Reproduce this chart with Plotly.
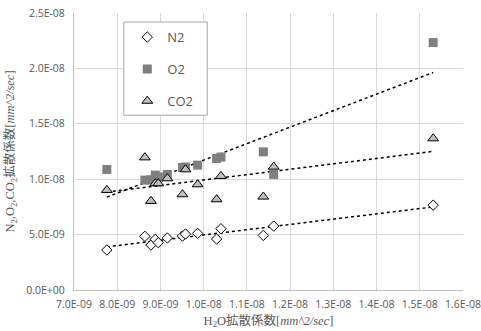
import numpy as np
import plotly.graph_objects as go

# H2O diffusion coefficient (x)
h2o = [7.76e-9, 8.64e-9, 8.78e-9, 8.88e-9, 8.95e-9, 9.16e-9, 9.51e-9, 9.58e-9,
       9.86e-9, 1.030e-8, 1.040e-8, 1.138e-8, 1.162e-8, 1.531e-8]
n2 = [3.61e-9, 4.84e-9, 4.06e-9, 4.57e-9, 4.27e-9, 4.69e-9, 4.87e-9, 5.05e-9,
      5.11e-9, 4.60e-9, 5.53e-9, 4.93e-9, 5.77e-9, 7.66e-9]
o2 = [10.88e-9, 9.92e-9, 9.95e-9, 10.37e-9, 10.20e-9, 10.43e-9, 11.06e-9, 11.10e-9,
      11.27e-9, 11.87e-9, 12.00e-9, 12.47e-9, 10.43e-9, 22.33e-9]
co2 = [9.02e-9, 11.96e-9, 8.03e-9, 9.62e-9, 9.62e-9, 10.07e-9, 8.63e-9, 10.88e-9,
       9.53e-9, 8.18e-9, 10.28e-9, 8.42e-9, 11.12e-9, 13.68e-9]

x_tickvals = [7e-9, 8e-9, 9e-9, 1.0e-8, 1.1e-8, 1.2e-8, 1.3e-8, 1.4e-8, 1.5e-8, 1.6e-8]
x_ticktext = ["7.0E-09", "8.0E-09", "9.0E-09", "1.0E-08", "1.1E-08", "1.2E-08",
              "1.3E-08", "1.4E-08", "1.5E-08", "1.6E-08"]
y_tickvals = [0, 5e-9, 1.0e-8, 1.5e-8, 2.0e-8, 2.5e-8]
y_ticktext = ["0.0E+00", "5.0E-09", "1.0E-08", "1.5E-08", "2.0E-08", "2.5E-08"]

fig = go.Figure()

series = [
    ("N2", n2, dict(symbol="diamond", size=8, color="white",
                    line=dict(color="black", width=1))),
    ("O2", o2, dict(symbol="square", size=9, color="#7f7f7f",
                    line=dict(color="#7f7f7f", width=0))),
    ("CO2", co2, dict(symbol="triangle-up", size=9.5, color="#bfbfbf",
                      line=dict(color="black", width=1))),
]

xa = np.array(h2o)
for name, ys, mk in series:
    k, b = np.polyfit(xa, np.array(ys), 1)
    xl = [xa.min(), xa.max()]
    fig.add_trace(go.Scatter(x=xl, y=[k * v + b for v in xl], mode="lines",
                             line=dict(color="black", width=1.5, dash="dot"),
                             showlegend=False, hoverinfo="skip"))

for name, ys, mk in series:
    fig.add_trace(go.Scatter(x=h2o, y=ys, mode="markers", name=name,
                             marker=mk, legendgroup=name))

axis_font = dict(family="Open Sans, Liberation Sans, sans-serif", size=10.5, color="#595959")
title_font = dict(family="Liberation Serif, Noto Sans CJK JP, serif", size=12.5, color="#595959")

# legend frame
fig.add_shape(type="rect", xref="paper", yref="paper",
              x0=0.128, x1=0.3424, y0=0.631, y1=0.9675,
              line=dict(color="#a6a6a6", width=1), fillcolor="white", layer="above")

fig.update_layout(
    width=481, height=331,
    margin=dict(l=74, r=18, t=13, b=41),
    plot_bgcolor="white", paper_bgcolor="white",
    showlegend=True,
    legend=dict(x=0.137, y=0.967, xanchor="left", yanchor="top",
                borderwidth=0, bgcolor="rgba(0,0,0,0)",
                font=dict(family="Open Sans, Liberation Sans, sans-serif", size=13, color="#595959"),
                tracegroupgap=12, itemwidth=30),
    xaxis=dict(range=[7e-9, 1.6e-8], tickvals=x_tickvals, ticktext=x_ticktext,
               showgrid=True, gridcolor="#d9d9d9", gridwidth=1,
               showline=True, linecolor="#bfbfbf", linewidth=1, zeroline=False,
               ticks="", tickfont=axis_font, ticklabelstandoff=4, automargin=False,
               ticklabeloverflow="allow",
               title=dict(text="H<sub>2</sub>O拡散係数[<i>mm^2/sec</i>]", font=title_font, standoff=6)),
    yaxis=dict(range=[0, 2.5e-8], tickvals=y_tickvals, ticktext=y_ticktext,
               showgrid=True, gridcolor="#d9d9d9", gridwidth=1,
               showline=True, linecolor="#bfbfbf", linewidth=1, zeroline=False,
               ticks="", tickfont=axis_font, ticklabelstandoff=6, automargin=False,
               ticklabeloverflow="allow",
               title=dict(text="N<sub>2</sub>,O<sub>2</sub>,CO<sub>2</sub>拡散係数[<i>mm^2/sec</i>]",
                          font=title_font, standoff=8)),
)

fig.write_html("out.html", config={"displayModeBar": False},
               post_script="document.body.style.margin='0';document.body.style.overflow='hidden';")
